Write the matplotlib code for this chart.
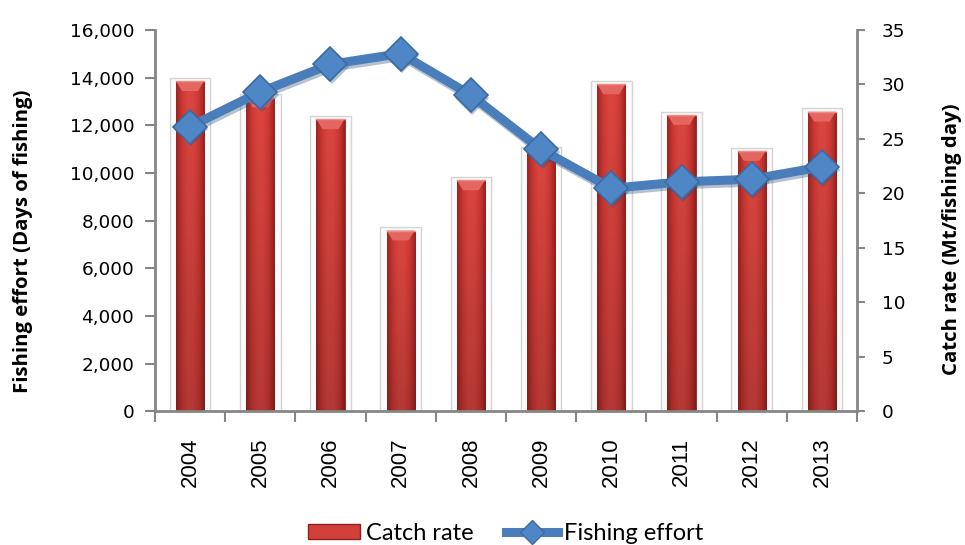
import numpy as np
import matplotlib
matplotlib.use("Agg")
import matplotlib.pyplot as plt
from matplotlib.ticker import FuncFormatter, FixedLocator
from matplotlib.lines import Line2D
from matplotlib.patches import Patch

years = ["2004", "2005", "2006", "2007", "2008", "2009", "2010", "2011", "2012", "2013"]
catch_rate = [30.3, 28.8, 26.8, 16.6, 21.2, 24.0, 30.0, 27.2, 23.9, 27.5]
fishing_effort = [11950, 13400, 14560, 15010, 13270, 10990, 9360, 9630, 9740, 10260]

label_font = ["Open Sans", "DejaVu Sans"]
legend_font = ["Lato", "DejaVu Sans"]
ytick_font = ["DejaVu Sans"]
xtick_font = ["Liberation Sans", "DejaVu Sans"]

fig = plt.figure(figsize=(9.65, 5.45), dpi=100)
ax = fig.add_axes([0.1606, 0.245, 0.7275, 0.70])
ax2 = ax.twinx()

x = np.arange(len(years))
spine_col = "#868686"

# --- catch-rate bars (secondary axis) ---
ax2.bar(x, np.array(catch_rate) + 0.3, width=0.58, facecolor="#fbfbfb",
        edgecolor="#d4d4d4", linewidth=1.0, zorder=1)
bars = ax2.bar(x, catch_rate, width=0.40, color="#D2403B", edgecolor="#8E1F1F",
               linewidth=0.6, zorder=2)

# horizontal shading across each bar: darker edges, bright centre
grad_cols = np.array([[0.62, 0.14, 0.13], [0.80, 0.22, 0.20], [0.86, 0.27, 0.25],
                      [0.86, 0.27, 0.25], [0.80, 0.22, 0.20], [0.60, 0.13, 0.12]])
xs = np.linspace(0, 1, grad_cols.shape[0])
xi = np.linspace(0, 1, 64)
row = np.stack([np.interp(xi, xs, grad_cols[:, c]) for c in range(3)], axis=-1)
for b in bars:
    x0, w, h = b.get_x(), b.get_width(), b.get_height()
    ys = np.linspace(0, 1, 48)[:, None, None]
    img = row[None, :, :] * (0.82 + 0.18 * ys)
    im = ax2.imshow(img, extent=[x0, x0 + w, 0, h], aspect="auto", origin="lower",
                    zorder=2.5, interpolation="bilinear")
    im.set_clip_path(b)
    # lighter bevel at the top of the bar
    ax2.fill([x0, x0 + w, x0 + w * 0.78, x0 + w * 0.22],
             [h, h, h - 0.9, h - 0.9], color="#E56661", zorder=2.6, lw=0)
    ax2.plot([x0, x0 + w], [h, h], color="#F08A85", lw=1.0, zorder=2.7)

# --- fishing-effort line (primary axis, drawn on top) ---
ax.set_zorder(ax2.get_zorder() + 1)
ax.patch.set_visible(False)
ax.plot(x + 0.02, np.array(fishing_effort) - 120, color="#2F4F7A", alpha=0.35,
        lw=6.5, marker="D", markersize=17, markeredgewidth=0, zorder=3)
ax.plot(x, fishing_effort, color="#4A7EBB", lw=6.5, marker="D", markersize=17,
        markerfacecolor="#4F86C6", markeredgecolor="#3B6BA3", markeredgewidth=1.2,
        zorder=4, solid_joinstyle="round")

# --- axes formatting ---
ax.set_xlim(-0.5, len(years) - 0.5)
ax.set_ylim(0, 16000)
ax2.set_ylim(0, 35)
ax.set_yticks(np.arange(0, 16001, 2000))
ax.yaxis.set_major_formatter(FuncFormatter(lambda v, p: f"{int(v):,}"))
ax2.set_yticks(np.arange(0, 36, 5))

ax.set_xticks(x)
ax.set_xticklabels(years, rotation=90, family=xtick_font, fontsize=16)
ax.xaxis.set_minor_locator(FixedLocator(np.arange(-0.5, len(years), 1.0)))
ax.tick_params(axis="x", which="major", length=0, pad=19)
ax.tick_params(axis="x", which="minor", length=8, width=1.5, color=spine_col)
ax.tick_params(axis="y", length=7, width=1.5, color=spine_col, labelsize=13.3, pad=8)
ax2.tick_params(axis="y", length=6, width=1.5, color=spine_col, labelsize=13.3, pad=12)
for lab in ax.get_yticklabels() + ax2.get_yticklabels():
    lab.set_family(ytick_font)

for a in (ax, ax2):
    a.spines["top"].set_visible(False)
    for s in ("left", "right", "bottom"):
        a.spines[s].set_color(spine_col)
        a.spines[s].set_linewidth(2)
ax.spines["right"].set_visible(False)
ax2.spines["left"].set_visible(False)
ax2.spines["bottom"].set_visible(False)

ax.set_ylabel("Fishing effort (Days of fishing)", fontsize=14.7, fontweight="bold",
              family=label_font)
ax2.set_ylabel("Catch rate (Mt/fishing day)", fontsize=14.7, fontweight="bold",
               family=label_font)
ax.yaxis.set_label_coords(-0.174, 0.445)
ax2.yaxis.set_label_coords(1.121, 0.452)

# --- legend ---
handles = [Patch(facecolor="#D2403B", edgecolor="#8E1F1F"),
           Line2D([0], [0], color="#4A7EBB", lw=6.5, marker="D", markersize=12,
                  markerfacecolor="#4F86C6", markeredgecolor="#3B6BA3")]
fig.legend(handles, ["Catch rate", "Fishing effort"], loc="center",
           bbox_to_anchor=(0.524, 0.021), ncol=2, frameon=False,
           prop={"family": legend_font, "size": 17}, handlelength=2.2,
           handleheight=0.6, handletextpad=0.25, columnspacing=1.4,
           borderpad=0.1)

fig.savefig("out.png", dpi=100)
